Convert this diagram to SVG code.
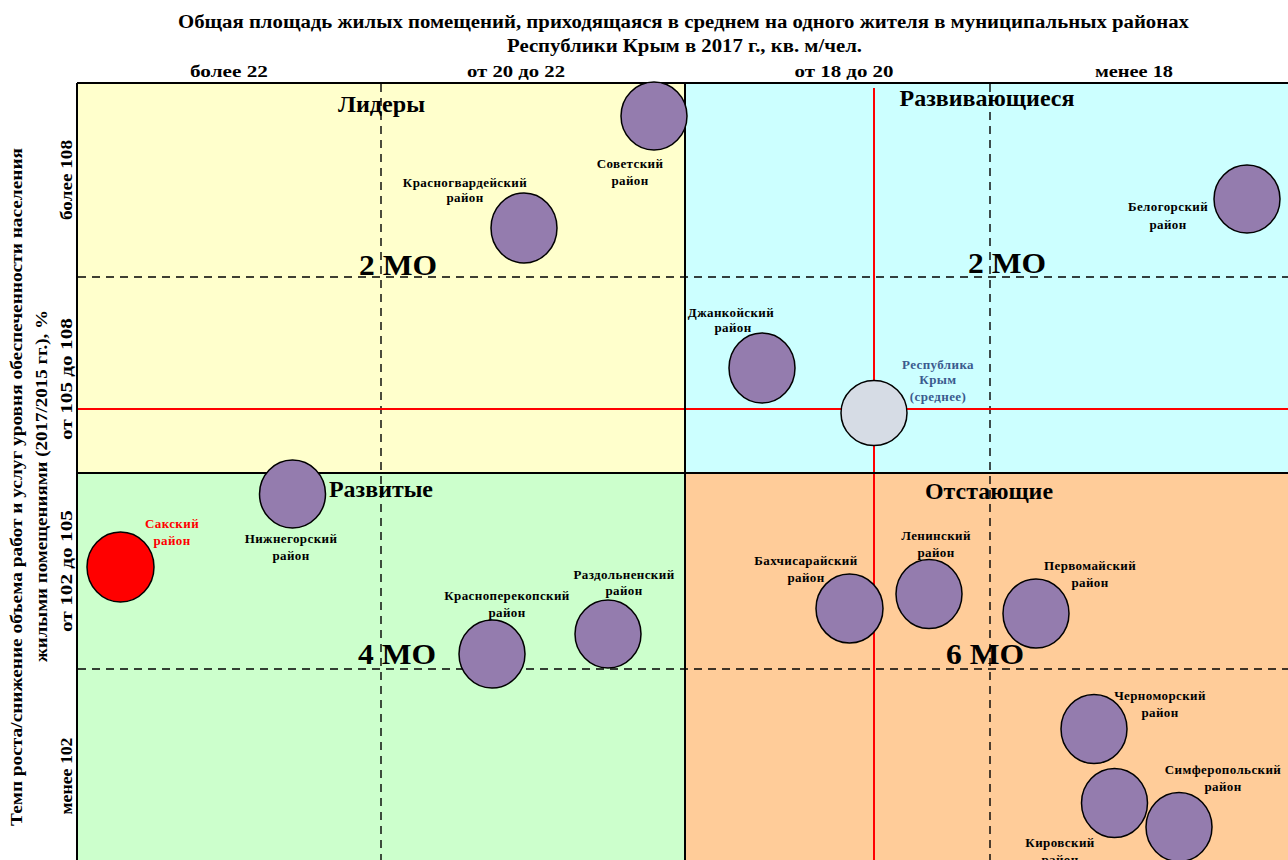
<svg xmlns="http://www.w3.org/2000/svg" width="1288" height="860" viewBox="0 0 1288 860">
<style>
text{font-family:"Liberation Serif","Times New Roman",serif;font-weight:bold;fill:#000}
.ttl{font-size:18px}
.col{font-size:17px}
.ax{font-size:17px}
.row{font-size:17px}
.q{font-size:23px}
.mo{font-size:29px}
.lb{font-size:13px;letter-spacing:0.4px}
.red{fill:#FF0000}
.blue{fill:#3B5B8E}
.node{fill:#947CAE;stroke:#000;stroke-width:1.5}
.dash{stroke:#000;stroke-width:1.4;stroke-dasharray:8 6;fill:none}
.rline{stroke:#FF0000;stroke-width:2;fill:none}
.bline{stroke:#000;stroke-width:2;fill:none}
</style>
<rect width="1288" height="860" fill="#FFFFFF"/>
<g id="background">
<rect x="77" y="83" width="608" height="390" fill="#FFFFCC"/>
<rect x="685" y="83" width="603" height="390" fill="#CCFFFF"/>
<rect x="77" y="473" width="608" height="387" fill="#CCFFCC"/>
<rect x="685" y="473" width="603" height="387" fill="#FFCC99"/>
</g>
<g id="grid">
<line class="dash" x1="381" y1="84" x2="381" y2="860"/>
<line class="dash" x1="990" y1="84" x2="990" y2="860"/>
<line class="dash" x1="78" y1="277" x2="1288" y2="277"/>
<line class="dash" x1="78" y1="669" x2="1288" y2="669"/>
<line class="rline" x1="874" y1="88" x2="874" y2="860"/>
<line class="rline" x1="78" y1="409" x2="1288" y2="409"/>
<line class="bline" x1="685" y1="83" x2="685" y2="860"/>
<line class="bline" x1="77" y1="473" x2="1288" y2="473"/>
<line class="bline" x1="77" y1="83" x2="1288" y2="83"/>
<line class="bline" x1="77" y1="83" x2="77" y2="860"/>
</g>
<g id="titles">
<text class="ttl" x="683.5" y="28" text-anchor="middle" textLength="1011" lengthAdjust="spacingAndGlyphs">Общая площадь жилых помещений, приходящаяся в среднем на одного жителя в муниципальных районах</text>
<text class="ttl" x="684.5" y="52" text-anchor="middle" textLength="355" lengthAdjust="spacingAndGlyphs">Республики Крым в 2017 г., кв. м/чел.</text>
<text class="col" x="229" y="77" text-anchor="middle" textLength="78" lengthAdjust="spacingAndGlyphs">более 22</text>
<text class="col" x="516" y="77" text-anchor="middle" textLength="98" lengthAdjust="spacingAndGlyphs">от 20 до 22</text>
<text class="col" x="844" y="77" text-anchor="middle" textLength="99" lengthAdjust="spacingAndGlyphs">от 18 до 20</text>
<text class="col" x="1134" y="77" text-anchor="middle" textLength="78" lengthAdjust="spacingAndGlyphs">менее 18</text>
<text class="ax" transform="translate(22,487) rotate(-90)" text-anchor="middle" textLength="678" lengthAdjust="spacingAndGlyphs">Темп роста/снижение объема работ и услуг уровня обеспеченности населения</text>
<text class="ax" transform="translate(47,486) rotate(-90)" text-anchor="middle" textLength="352" lengthAdjust="spacingAndGlyphs">жилыми помещениями (2017/2015 гг.), %</text>
<text class="row" transform="translate(72,180) rotate(-90)" text-anchor="middle" textLength="80" lengthAdjust="spacingAndGlyphs">более 108</text>
<text class="row" transform="translate(72,379) rotate(-90)" text-anchor="middle" textLength="122" lengthAdjust="spacingAndGlyphs">от 105 до 108</text>
<text class="row" transform="translate(72,571) rotate(-90)" text-anchor="middle" textLength="122" lengthAdjust="spacingAndGlyphs">от 102 до 105</text>
<text class="row" transform="translate(72,776) rotate(-90)" text-anchor="middle" textLength="77" lengthAdjust="spacingAndGlyphs">менее 102</text>
</g>
<g id="quadrant-labels">
<text class="q" x="381.5" y="112" text-anchor="middle" textLength="87" lengthAdjust="spacingAndGlyphs">Лидеры</text>
<text class="q" x="987" y="106" text-anchor="middle" textLength="175" lengthAdjust="spacingAndGlyphs">Развивающиеся</text>
<text class="q" x="381" y="497" text-anchor="middle" textLength="104" lengthAdjust="spacingAndGlyphs">Развитые</text>
<text class="q" x="989" y="499" text-anchor="middle" textLength="128" lengthAdjust="spacingAndGlyphs">Отстающие</text>
<text class="mo" x="398" y="275" text-anchor="middle" textLength="78" lengthAdjust="spacingAndGlyphs">2 МО</text>
<text class="mo" x="1007" y="273" text-anchor="middle" textLength="78" lengthAdjust="spacingAndGlyphs">2 МО</text>
<text class="mo" x="397" y="664" text-anchor="middle" textLength="78" lengthAdjust="spacingAndGlyphs">4 МО</text>
<text class="mo" x="985" y="664" text-anchor="middle" textLength="78" lengthAdjust="spacingAndGlyphs">6 МО</text>
</g>
<g id="node-sovetsky">
<ellipse class="node" cx="654" cy="116" rx="33" ry="34"/>
<text class="lb" x="630" y="168" text-anchor="middle">Советский</text>
<text class="lb" x="630" y="185" text-anchor="middle">район</text>
</g>
<g id="node-krasnogvardeysky">
<ellipse class="node" cx="524" cy="228" rx="33" ry="35"/>
<text class="lb" x="465" y="187" text-anchor="middle">Красногвардейский</text>
<text class="lb" x="465" y="202" text-anchor="middle">район</text>
</g>
<g id="node-belogorsky">
<ellipse class="node" cx="1247" cy="199" rx="33" ry="34"/>
<text class="lb" x="1168" y="211" text-anchor="middle">Белогорский</text>
<text class="lb" x="1168" y="229" text-anchor="middle">район</text>
</g>
<g id="node-dzhankoysky">
<ellipse class="node" cx="762" cy="368" rx="33" ry="35"/>
<text class="lb" x="731" y="317" text-anchor="middle">Джанкойский</text>
<text class="lb" x="733" y="332" text-anchor="middle">район</text>
</g>
<g id="node-crimea">
<ellipse cx="874" cy="413" rx="33" ry="32.5" fill="#D6DCE5" stroke="#000" stroke-width="1.5"/>
<text class="lb blue" x="938" y="369" text-anchor="middle">Республика</text>
<text class="lb blue" x="938" y="384" text-anchor="middle">Крым</text>
<text class="lb blue" x="938" y="401" text-anchor="middle">(среднее)</text>
</g>
<g id="node-nizhnegorsky">
<ellipse class="node" cx="292.5" cy="494" rx="33" ry="34"/>
<text class="lb" x="291" y="543" text-anchor="middle">Нижнегорский</text>
<text class="lb" x="291" y="560" text-anchor="middle">район</text>
</g>
<g id="node-saksky">
<ellipse cx="120.5" cy="567" rx="33.5" ry="35" fill="#FF0000" stroke="#000" stroke-width="1.5"/>
<text class="lb red" x="172" y="528" text-anchor="middle">Сакский</text>
<text class="lb red" x="172" y="545" text-anchor="middle">район</text>
</g>
<g id="node-krasnoperekopsky">
<ellipse class="node" cx="492" cy="654" rx="33" ry="34"/>
<text class="lb" x="507" y="600" text-anchor="middle">Красноперекопский</text>
<text class="lb" x="507" y="617" text-anchor="middle">район</text>
</g>
<g id="node-razdolnensky">
<ellipse class="node" cx="608" cy="634" rx="33" ry="34"/>
<text class="lb" x="624" y="579" text-anchor="middle">Раздольненский</text>
<text class="lb" x="624" y="595" text-anchor="middle">район</text>
</g>
<g id="node-bakhchisaraysky">
<ellipse class="node" cx="849.5" cy="608.5" rx="33.5" ry="34.5"/>
<text class="lb" x="806" y="565" text-anchor="middle">Бахчисарайский</text>
<text class="lb" x="806" y="582" text-anchor="middle">район</text>
</g>
<g id="node-leninsky">
<ellipse class="node" cx="929" cy="594" rx="33" ry="34.5"/>
<text class="lb" x="936" y="540" text-anchor="middle">Ленинский</text>
<text class="lb" x="936" y="557" text-anchor="middle">район</text>
</g>
<g id="node-pervomaysky">
<ellipse class="node" cx="1036" cy="613.5" rx="33" ry="34.5"/>
<text class="lb" x="1090" y="570" text-anchor="middle">Первомайский</text>
<text class="lb" x="1090" y="587" text-anchor="middle">район</text>
</g>
<g id="node-chernomorsky">
<ellipse class="node" cx="1094" cy="729" rx="33" ry="34.5"/>
<text class="lb" x="1160" y="700" text-anchor="middle">Черноморский</text>
<text class="lb" x="1160" y="717" text-anchor="middle">район</text>
</g>
<g id="node-kirovsky">
<ellipse class="node" cx="1114.5" cy="803" rx="33" ry="34.5"/>
<text class="lb" x="1060" y="847" text-anchor="middle">Кировский</text>
<text class="lb" x="1060" y="864" text-anchor="middle">район</text>
</g>
<g id="node-simferopolsky">
<ellipse class="node" cx="1179" cy="827" rx="33" ry="34.5"/>
<text class="lb" x="1223" y="774" text-anchor="middle">Симферопольский</text>
<text class="lb" x="1223" y="791" text-anchor="middle">район</text>
</g>
</svg>
